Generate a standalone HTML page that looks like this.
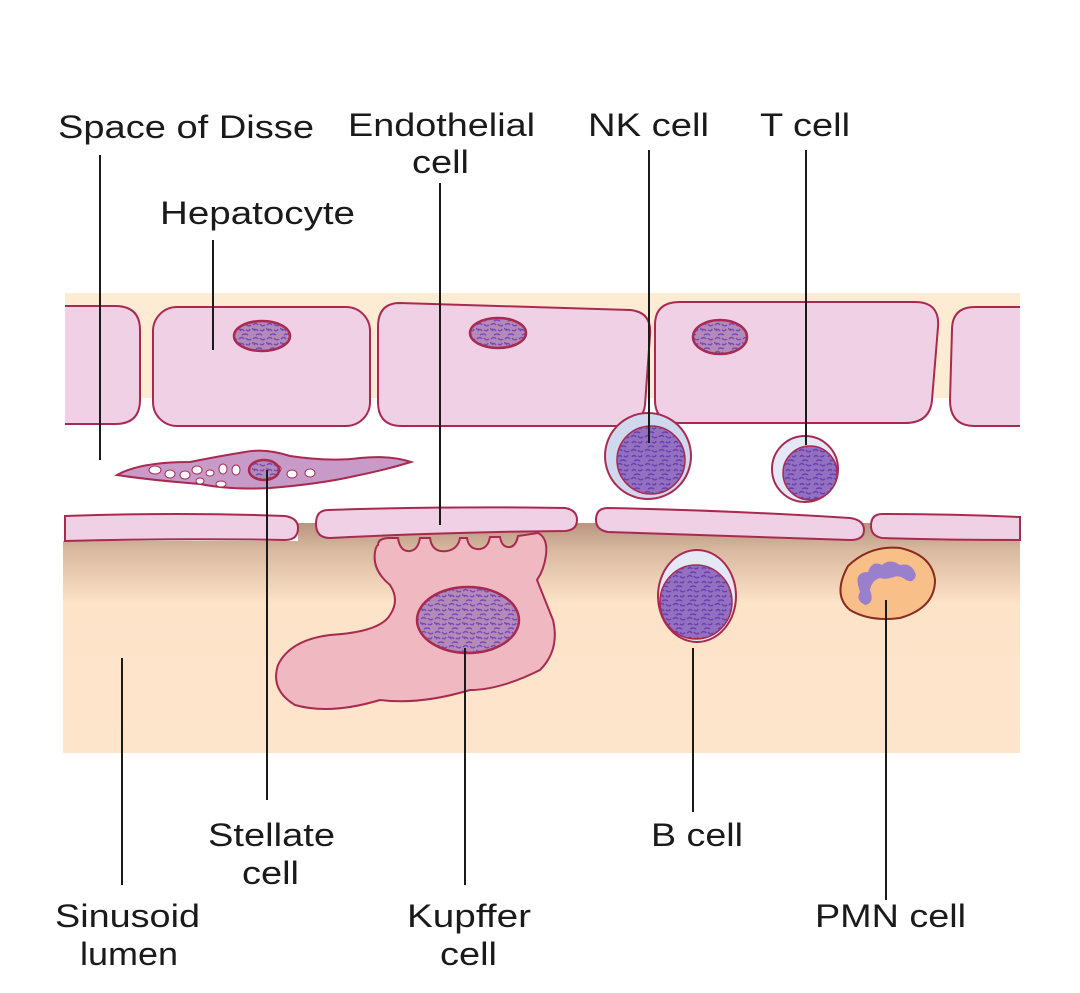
<!DOCTYPE html>
<html><head><style>html,body{margin:0;padding:0;background:#fff}svg{display:block}</style></head>
<body>
<svg width="1080" height="993" viewBox="0 0 1080 993" xmlns="http://www.w3.org/2000/svg" font-family="Liberation Sans, sans-serif" font-size="32" fill="#1a1a1a">
<defs>
<linearGradient id="lum" x1="0" y1="0" x2="0" y2="1">
<stop offset="0" stop-color="#b89580"/>
<stop offset="0.12" stop-color="#d9b9a0"/>
<stop offset="0.35" stop-color="#fde3c8"/>
<stop offset="1" stop-color="#fde5cc"/>
</linearGradient>
<pattern id="chrom" width="14" height="14" patternUnits="userSpaceOnUse">
<rect width="14" height="14" fill="#b38ab8"/>
<path d="M1 3 q3 -3 5 0 M8 2 q2 3 5 1 M2 9 q2 -3 4 0 M8 8 q3 2 4 -1 M4 13 q3 -2 6 0 M0 6 q1 2 3 1" stroke="#7a4ab8" stroke-width="1.4" fill="none"/>
</pattern>
<pattern id="chrom2" width="14" height="14" patternUnits="userSpaceOnUse">
<rect width="14" height="14" fill="#9370c0"/>
<path d="M1 3 q3 -3 5 0 M8 2 q2 3 5 1 M2 9 q2 -3 4 0 M8 8 q3 2 4 -1 M4 13 q3 -2 6 0" stroke="#6a40b0" stroke-width="1.4" fill="none"/>
</pattern>
</defs>
<rect x="65" y="293" width="955" height="105" fill="#fdebd3"/>
<rect x="63" y="523" width="957" height="230" fill="url(#lum)"/>
<rect x="63" y="523" width="235" height="18" fill="#fff"/>
<g fill="#f0d0e4" stroke="#a82a50" stroke-width="2">
<path d="M65 306 H115 Q140 306 140 330 V400 Q140 424 115 424 H65"/>
<rect x="153" y="307" width="217" height="119" rx="24"/>
<path d="M400 303 L630 310 Q652 312 650 335 L645 405 Q642 426 620 426 H402 Q378 426 378 402 V327 Q378 303 400 303Z"/>
<path d="M680 302 H915 Q940 302 938 327 L932 400 Q930 423 905 423 H680 Q655 423 655 400 V325 Q655 302 680 302Z"/>
<path d="M1020 307 H975 Q952 307 952 330 L950 400 Q950 426 975 426 H1020"/>
</g>
<g fill="url(#chrom)" stroke="#a82a50" stroke-width="2.5">
<ellipse cx="262" cy="336" rx="28" ry="15"/>
<ellipse cx="498" cy="333" rx="28" ry="15"/>
<ellipse cx="720" cy="337" rx="27" ry="17"/>
</g>
<path d="M117 475 Q140 462 190 462 Q220 456 245 452 Q265 448 290 456 Q330 462 360 458 Q390 455 411 462 Q385 470 355 476 Q320 484 270 488 Q230 490 200 484 Q150 480 117 475Z" fill="#c89ac8" stroke="#a82a50" stroke-width="2"/>
<g fill="#fff" stroke="#a82a50" stroke-width="1">
<ellipse cx="155" cy="470" rx="6" ry="4"/><ellipse cx="170" cy="474" rx="5" ry="4"/><ellipse cx="185" cy="475" rx="5" ry="4"/>
<ellipse cx="197" cy="470" rx="5" ry="4"/><ellipse cx="210" cy="473" rx="4" ry="3"/><ellipse cx="223" cy="469" rx="4" ry="5"/>
<ellipse cx="200" cy="481" rx="4" ry="3"/><ellipse cx="221" cy="484" rx="5" ry="3"/><ellipse cx="236" cy="470" rx="4" ry="5"/>
<ellipse cx="276" cy="469" rx="5" ry="4"/><ellipse cx="292" cy="474" rx="5" ry="4"/><ellipse cx="310" cy="473" rx="5" ry="4"/>
</g>
<ellipse cx="264" cy="470" rx="15" ry="10" fill="url(#chrom)" stroke="#a82a50" stroke-width="2.5"/>
<g fill="#f0d0e4" stroke="#a82a50" stroke-width="2">
<path d="M65 516 Q180 512 285 516 Q298 518 298 528 Q298 540 285 540 Q180 538 65 541Z"/>
<path d="M328 510 Q450 506 565 508 Q577 510 577 520 Q577 530 565 531 Q450 532 330 538 Q316 538 316 524 Q316 510 328 510Z"/>
<path d="M608 508 Q720 510 850 518 Q864 520 864 530 Q864 540 850 540 Q720 536 608 532 Q596 530 596 520 Q596 508 608 508Z"/>
<path d="M882 514 Q950 514 1020 517 V540 Q950 540 882 538 Q871 536 871 526 Q871 514 882 514Z"/>
</g>
<path d="M378 545 Q378 538 390 538 L398 538 Q400 552 410 551 Q418 550 420 538 L430 538 Q432 553 447 551 Q458 549 460 538 L467 538 Q469 550 480 549 Q488 548 490 537 L500 537 Q502 548 510 547 Q516 546 518 536 L538 533 Q548 538 546 555 Q544 570 537 580 Q545 600 553 620 Q560 650 540 670 Q500 690 470 690 Q420 705 380 700 Q330 715 295 705 Q270 690 278 665 Q290 640 330 635 Q380 632 390 615 Q400 600 390 585 Q372 570 375 552 Q376 546 378 545Z" fill="#f0b8c0" stroke="#a82a50" stroke-width="2"/>
<ellipse cx="468" cy="620" rx="51" ry="33" fill="url(#chrom)" stroke="#a82a50" stroke-width="2.5"/>
<circle cx="648" cy="456" r="43" fill="#d0d8ee" stroke="#a82a50" stroke-width="2"/>
<circle cx="651" cy="460" r="34" fill="url(#chrom2)" stroke="#a82a50" stroke-width="1.5"/>
<circle cx="805" cy="469" r="33" fill="#e4e8f6" stroke="#a82a50" stroke-width="2"/>
<circle cx="810" cy="473" r="27" fill="url(#chrom2)" stroke="#a82a50" stroke-width="1.5"/>
<ellipse cx="697" cy="596" rx="39" ry="46" fill="#e4e8f6" stroke="#a82a50" stroke-width="2"/>
<ellipse cx="696" cy="602" rx="36" ry="37" fill="url(#chrom2)" stroke="#a82a50" stroke-width="1.5"/>
<path d="M848 566 Q870 545 900 548 Q932 555 935 580 Q935 608 900 618 Q870 622 850 610 Q832 595 848 566Z" fill="#f8c088" stroke="#8a2a20" stroke-width="2"/>
<path d="M858 585 Q855 572 868 572 Q872 560 882 565 Q890 558 900 565 Q912 562 916 575 Q914 584 906 580 Q900 575 894 577 Q885 580 880 578 Q872 580 870 590 Q875 603 865 605 Q855 600 860 592Z" fill="#9a80cc"/>
<g stroke="#1a1a1a" stroke-width="2">
<line x1="100" y1="155" x2="100" y2="460"/>
<line x1="213" y1="240" x2="213" y2="350"/>
<line x1="440" y1="183" x2="440" y2="525"/>
<line x1="649" y1="150" x2="649" y2="443"/>
<line x1="806" y1="150" x2="806" y2="445"/>
<line x1="267" y1="470" x2="267" y2="800"/>
<line x1="122" y1="658" x2="122" y2="885"/>
<line x1="465" y1="648" x2="465" y2="885"/>
<line x1="693" y1="648" x2="693" y2="812"/>
<line x1="886" y1="600" x2="886" y2="900"/>
</g>
<text x="58" y="138" textLength="256" lengthAdjust="spacingAndGlyphs">Space of Disse</text>
<text x="348" y="136" textLength="187" lengthAdjust="spacingAndGlyphs">Endothelial</text>
<text x="412" y="173" textLength="57" lengthAdjust="spacingAndGlyphs">cell</text>
<text x="588" y="136" textLength="121" lengthAdjust="spacingAndGlyphs">NK cell</text>
<text x="760" y="136" textLength="90" lengthAdjust="spacingAndGlyphs">T cell</text>
<text x="160" y="224" textLength="195" lengthAdjust="spacingAndGlyphs">Hepatocyte</text>
<text x="208" y="846" textLength="127" lengthAdjust="spacingAndGlyphs">Stellate</text>
<text x="242" y="884" textLength="57" lengthAdjust="spacingAndGlyphs">cell</text>
<text x="651" y="846" textLength="92" lengthAdjust="spacingAndGlyphs">B cell</text>
<text x="55" y="927" textLength="145" lengthAdjust="spacingAndGlyphs">Sinusoid</text>
<text x="80" y="965" textLength="98" lengthAdjust="spacingAndGlyphs">lumen</text>
<text x="407" y="927" textLength="124" lengthAdjust="spacingAndGlyphs">Kupffer</text>
<text x="440" y="965" textLength="57" lengthAdjust="spacingAndGlyphs">cell</text>
<text x="815" y="927" textLength="151" lengthAdjust="spacingAndGlyphs">PMN cell</text>
</svg>
</body></html>
